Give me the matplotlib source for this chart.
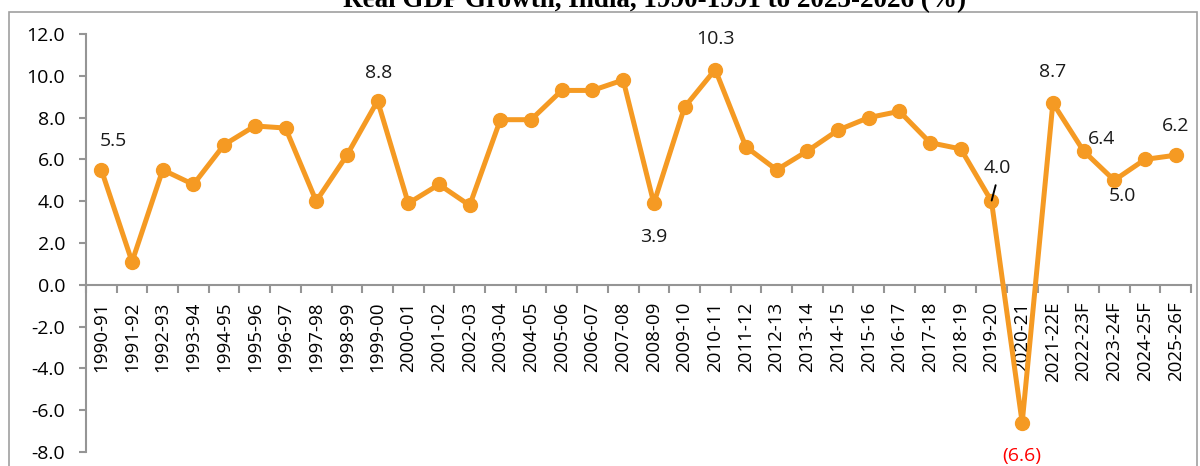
import matplotlib
matplotlib.use('Agg')
import matplotlib.pyplot as plt
from matplotlib.patches import Rectangle
import numpy as np

years = ['1990-91', '1991-92', '1992-93', '1993-94', '1994-95', '1995-96', '1996-97',
         '1997-98', '1998-99', '1999-00', '2000-01', '2001-02', '2002-03', '2003-04',
         '2004-05', '2005-06', '2006-07', '2007-08', '2008-09', '2009-10', '2010-11',
         '2011-12', '2012-13', '2013-14', '2014-15', '2015-16', '2016-17', '2017-18',
         '2018-19', '2019-20', '2020-21', '2021-22E', '2022-23F', '2023-24F',
         '2024-25F', '2025-26F']
growth = [5.5, 1.1, 5.5, 4.8, 6.7, 7.6, 7.5, 4.0, 6.2, 8.8, 3.9, 4.8, 3.8, 7.9,
          7.9, 9.3, 9.3, 9.8, 3.9, 8.5, 10.3, 6.6, 5.5, 6.4, 7.4, 8.0, 8.3, 6.8,
          6.5, 4.0, -6.6, 8.7, 6.4, 5.0, 6.0, 6.2]

# labelled points: index, text, offset (points)
labels = [(0, '5.5', (9, 21)), (9, '8.8', (1, 20)), (18, '3.9', (0, -24)),
          (20, '10.3', (0, 22)), (29, '4.0', (4, 24)), (30, '(6.6)', (0, -24)),
          (31, '8.7', (0, 22)), (32, '6.4', (13, 9)), (33, '5.0', (6, -11.5)),
          (35, '6.2', (0, 21))]

plt.rcParams['font.family'] = ['Open Sans', 'DejaVu Sans']
orange = '#F59A23'
grey = '#959595'

fig = plt.figure(figsize=(12, 4.66), dpi=100)
ax = fig.add_axes([86/1200, 14/466, 1105/1200, 418/466])

x = np.arange(len(years))
ax.plot(x, growth, '-o', color=orange, lw=3.6, markersize=10, zorder=3)

for i, txt, off in labels:
    col = '#FF0000' if growth[i] < 0 else '#1a1a1a'
    ax.annotate(txt, (x[i], growth[i]), xytext=off, textcoords='offset points',
                ha='center', va='center', fontsize=14, color=col)

# leader line for the 2019-20 label
ax.annotate('', (x[29], growth[29]), xytext=(3, 11.5), textcoords='offset points',
            arrowprops=dict(arrowstyle='-', color='black', lw=1.4, shrinkA=0, shrinkB=0.5),
            zorder=4)

ax.set_xlim(-0.5, len(years) - 0.5)
ax.set_ylim(-8, 12)
ax.set_yticks(np.arange(-8, 12.1, 2))
ax.set_yticklabels(['%.1f' % v for v in np.arange(-8, 12.1, 2)])

ax.spines['top'].set_visible(False)
ax.spines['right'].set_visible(False)
ax.spines['bottom'].set_position(('data', 0))
for s in ['left', 'bottom']:
    ax.spines[s].set_color(grey)
    ax.spines[s].set_linewidth(1.5)

ax.set_xticks(x)
ax.set_xticklabels(years, rotation=90, fontsize=13.5)
ax.set_xticks(np.arange(-0.5, len(years), 1), minor=True)
ax.tick_params(axis='x', which='major', length=0, pad=12)
ax.tick_params(axis='x', which='minor', length=6, width=1.5, color=grey, direction='out')
ax.tick_params(axis='y', length=5, width=1.5, color=grey, labelsize=14, pad=10)

fig.text(655/1200, 1 - 7/466, 'Real GDP Growth, India, 1990-1991 to 2025-2026 (%)',
         ha='center', va='baseline', fontsize=19.5, fontweight='bold', family='Liberation Serif')

fig.patches.append(Rectangle((9/1200, -0.1), 1188/1200, 1.1 - 12/466, transform=fig.transFigure,
                             fill=False, edgecolor='#A0A0A0', lw=1.2))

fig.savefig('out.png', dpi=100)
